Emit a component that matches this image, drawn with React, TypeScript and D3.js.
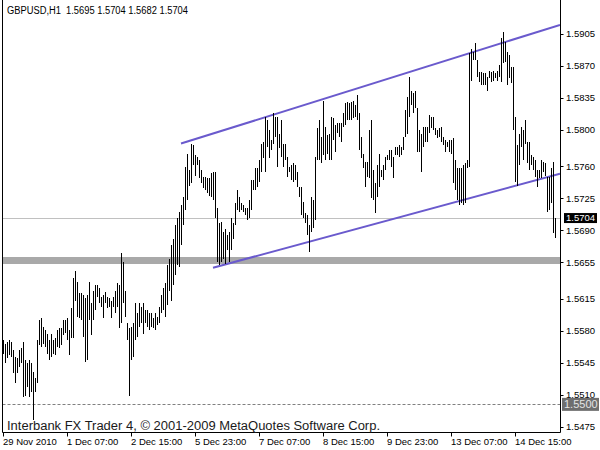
import React from "react";
import * as d3 from "d3";

// ---- data (GBPUSD H1, bar highs / lows) ----
const highs = [
1.5570,1.5566,1.5568,1.5570,1.5568,1.5559,1.5551,1.5550,1.5559,1.5561,
1.5568,1.5548,1.5545,1.5548,1.5545,1.5535,1.5528,1.5570,1.5592,1.5594,
1.5584,1.5581,1.5577,1.5570,1.5577,1.5570,1.5572,1.5581,1.5583,1.5583,
1.5592,1.5592,1.5594,1.5581,1.5605,1.5638,1.5646,1.5633,1.5621,1.5621,
1.5619,1.5616,1.5619,1.5633,1.5610,1.5624,1.5630,1.5630,1.5627,1.5617,
1.5619,1.5622,1.5617,1.5616,1.5613,1.5617,1.5624,1.5632,1.5630,1.5665,
1.5655,1.5624,1.5588,1.5583,1.5584,1.5588,1.5610,1.5599,1.5610,1.5606,
1.5610,1.5603,1.5603,1.5599,1.5599,1.5594,1.5599,1.5595,1.5606,1.5619,
1.5627,1.5632,1.5652,1.5659,1.5674,1.5681,1.5696,1.5703,1.5710,1.5718,
1.5726,1.5759,1.5774,1.5756,1.5785,1.5783,1.5772,1.5770,1.5767,1.5756,
1.5748,1.5748,1.5747,1.5747,1.5753,1.5754,1.5754,1.5715,1.5698,1.5699,
1.5688,1.5692,1.5685,1.5688,1.5704,1.5698,1.5720,1.5734,1.5726,1.5720,
1.5718,1.5715,1.5715,1.5723,1.5745,1.5745,1.5758,1.5758,1.5767,1.5785,
1.5787,1.5814,1.5811,1.5800,1.5789,1.5818,1.5814,1.5814,1.5796,1.5811,
1.5785,1.5785,1.5770,1.5759,1.5761,1.5764,1.5761,1.5754,1.5737,1.5737,
1.5721,1.5709,1.5707,1.5696,1.5726,1.5723,1.5770,1.5802,1.5811,1.5792,
1.5832,1.5803,1.5794,1.5796,1.5814,1.5813,1.5805,1.5807,1.5808,1.5807,
1.5819,1.5829,1.5830,1.5829,1.5830,1.5832,1.5827,1.5838,1.5819,1.5792,
1.5774,1.5765,1.5765,1.5800,1.5811,1.5756,1.5742,1.5761,1.5774,1.5756,
1.5761,1.5770,1.5772,1.5778,1.5778,1.5770,1.5781,1.5781,1.5783,1.5781,
1.5792,1.5822,1.5836,1.5858,1.5843,1.5840,1.5843,1.5824,1.5800,1.5796,
1.5803,1.5803,1.5803,1.5816,1.5814,1.5814,1.5802,1.5800,1.5802,1.5803,
1.5792,1.5789,1.5787,1.5789,1.5789,1.5791,1.5767,1.5758,1.5758,1.5758,
1.5761,1.5764,1.5767,1.5884,1.5889,1.5885,1.5895,1.5876,1.5863,1.5863,
1.5862,1.5862,1.5858,1.5865,1.5863,1.5865,1.5862,1.5865,1.5871,1.5901,
1.5907,1.5896,1.5885,1.5882,1.5869,1.5869,1.5814,1.5783,1.5796,1.5803,
1.5800,1.5811,1.5787,1.5787,1.5772,1.5770,1.5767,1.5756,1.5756,1.5767,
1.5765,1.5764,1.5748,1.5748,1.5758,1.5765,1.5704
];
const lows = [
1.5555,1.5545,1.5550,1.5553,1.5551,1.5534,1.5523,1.5534,1.5540,1.5545,
1.5507,1.5509,1.5518,1.5507,1.5513,1.5482,1.5513,1.5523,1.5564,1.5562,
1.5566,1.5562,1.5555,1.5548,1.5551,1.5555,1.5553,1.5562,1.5561,1.5564,
1.5575,1.5578,1.5570,1.5553,1.5572,1.5572,1.5613,1.5595,1.5594,1.5592,
1.5573,1.5546,1.5548,1.5592,1.5575,1.5592,1.5603,1.5617,1.5610,1.5606,
1.5594,1.5610,1.5605,1.5606,1.5594,1.5606,1.5600,1.5606,1.5583,1.5588,
1.5610,1.5595,1.5570,1.5509,1.5548,1.5551,1.5570,1.5573,1.5584,1.5588,
1.5577,1.5588,1.5584,1.5581,1.5584,1.5583,1.5581,1.5586,1.5588,1.5599,
1.5603,1.5595,1.5608,1.5624,1.5613,1.5630,1.5641,1.5652,1.5650,1.5674,
1.5696,1.5712,1.5723,1.5739,1.5742,1.5761,1.5750,1.5761,1.5747,1.5742,
1.5736,1.5734,1.5731,1.5728,1.5726,1.5723,1.5703,1.5655,1.5652,1.5655,
1.5659,1.5653,1.5668,1.5655,1.5668,1.5681,1.5696,1.5712,1.5710,1.5712,
1.5710,1.5707,1.5701,1.5703,1.5712,1.5734,1.5734,1.5737,1.5743,1.5754,
1.5769,1.5754,1.5781,1.5769,1.5778,1.5785,1.5792,1.5759,1.5780,1.5770,
1.5759,1.5767,1.5748,1.5754,1.5745,1.5743,1.5745,1.5737,1.5726,1.5707,
1.5704,1.5698,1.5685,1.5666,1.5688,1.5693,1.5701,1.5767,1.5767,1.5764,
1.5772,1.5767,1.5774,1.5767,1.5767,1.5789,1.5776,1.5797,1.5792,1.5787,
1.5803,1.5805,1.5811,1.5811,1.5811,1.5813,1.5814,1.5811,1.5778,1.5769,
1.5758,1.5737,1.5748,1.5747,1.5725,1.5723,1.5709,1.5726,1.5737,1.5748,
1.5745,1.5756,1.5767,1.5767,1.5759,1.5747,1.5772,1.5772,1.5770,1.5772,
1.5778,1.5792,1.5796,1.5814,1.5827,1.5818,1.5824,1.5776,1.5776,1.5754,
1.5781,1.5787,1.5787,1.5797,1.5802,1.5800,1.5794,1.5791,1.5792,1.5787,
1.5783,1.5776,1.5781,1.5776,1.5774,1.5742,1.5734,1.5723,1.5718,1.5720,
1.5718,1.5720,1.5758,1.5759,1.5854,1.5876,1.5876,1.5858,1.5852,1.5849,
1.5849,1.5849,1.5843,1.5857,1.5852,1.5854,1.5857,1.5854,1.5858,1.5852,
1.5873,1.5874,1.5849,1.5857,1.5851,1.5800,1.5743,1.5739,1.5761,1.5781,
1.5767,1.5785,1.5764,1.5756,1.5761,1.5756,1.5748,1.5737,1.5747,1.5747,
1.5754,1.5750,1.5710,1.5712,1.5720,1.5687,1.5682
];

const priceTicks = [1.5905, 1.587, 1.5835, 1.58, 1.576, 1.5725, 1.569, 1.5655, 1.5615, 1.558, 1.5545, 1.551, 1.5475];
const timeLabels = ["29 Nov 2010", "1 Dec 07:00", "2 Dec 15:00", "5 Dec 23:00", "7 Dec 07:00", "8 Dec 15:00", "9 Dec 23:00", "13 Dec 07:00", "14 Dec 15:00"];
const timeLabelBars = [0, 32, 64, 96, 128, 160, 192, 224, 256];

const titleText = "GBPUSD,H1  1.5695 1.5704 1.5682 1.5704";
const copyrightText = "Interbank FX Trader 4, \u00A9 2001-2009 MetaQuotes Software Corp.";

const bidPrice = 1.5704;
const levelPrice = 1.5657;
const alertPrice = 1.55;

// channel trend lines: [barIndex, price] anchors
const upperChannel = [[88.75, 1.5785], [278.25, 1.5915]];
const lowerChannel = [[104.75, 1.5649], [278.25, 1.5752]];

const W = 600, H = 450;
const L = 2.5, R = 560.5, B = 432.5;

export default function App() {
  const x = d3.scaleLinear().domain([0, 1]).range([3.5, 5.5]);
  const y = d3.scaleLinear().domain([1.54692, 1.59422]).range([432, 0]);
  const line = d3.line<number[]>().x((d) => x(d[0])).y((d) => y(d[1]));
  const font = "'Liberation Sans', Arial, sans-serif";

  return (
    <svg width={W} height={H} style={{ position: "absolute", left: 0, top: 0, background: "#fff" }}>
      <defs>
        <clipPath id="plot">
          <rect x={3} y={0} width={557} height={432} />
        </clipPath>
      </defs>
      <rect x={0} y={0} width={W} height={H} fill="#fff" />
      <g clipPath="url(#plot)">
        <line x1={L} x2={R} y1={y(levelPrice)} y2={y(levelPrice)} stroke="#a9a9a9" strokeWidth={7} />
        <line x1={L} x2={R} y1={Math.round(y(bidPrice)) + 0.5} y2={Math.round(y(bidPrice)) + 0.5} stroke="#c0c0c0" strokeWidth={1} />
        <line x1={L} x2={R} y1={Math.round(y(alertPrice)) + 0.5} y2={Math.round(y(alertPrice)) + 0.5} stroke="#808080" strokeWidth={1} strokeDasharray="3,2" />
        <path d={line(upperChannel) || ""} stroke="#6a5acd" strokeWidth={2} fill="none" />
        <path d={line(lowerChannel) || ""} stroke="#6a5acd" strokeWidth={2} fill="none" />
        {highs.map((h, i) => (
          <line key={i} x1={x(i)} x2={x(i)} y1={y(h)} y2={y(lows[i])} stroke="#000" strokeWidth={1} shapeRendering="crispEdges" />
        ))}
      </g>
      {/* frame */}
      <line x1={L} x2={L} y1={0} y2={B} stroke="#000" />
      <line x1={R} x2={R} y1={0} y2={B} stroke="#000" />
      <line x1={L} x2={R} y1={B} y2={B} stroke="#000" />
      {/* price axis */}
      {priceTicks.map((p) => (
        <g key={p}>
          <line x1={R} x2={R + 3} y1={Math.round(y(p)) + 0.5} y2={Math.round(y(p)) + 0.5} stroke="#000" />
          <text x={566} y={y(p) + 3.5} fontFamily={font} fontSize={9.5} fill="#000">{p.toFixed(4)}</text>
        </g>
      ))}
      <rect x={564} y={y(bidPrice) - 4.5} width={33} height={10} fill="#000" />
      <text x={566} y={y(bidPrice) + 3.8} fontFamily={font} fontSize={9.5} fill="#fff">{bidPrice.toFixed(4)}</text>
      <rect x={562} y={y(alertPrice) - 6} width={37} height={13} fill="#6e6e6e" />
      <text x={564} y={y(alertPrice) + 4.5} fontFamily={font} fontSize={11} fill="#e4e4e4">{alertPrice.toFixed(4)}</text>
      {/* time axis */}
      {timeLabels.map((t, k) => (
        <g key={t}>
          <line x1={Math.floor(x(timeLabelBars[k])) + 0.5} x2={Math.floor(x(timeLabelBars[k])) + 0.5} y1={B} y2={B + 4} stroke="#000" />
          <text x={x(timeLabelBars[k]) - 0.5} y={445} fontFamily={font} fontSize={9.5} fill="#000">{t}</text>
        </g>
      ))}
      <text x={7} y={14} fontFamily={font} fontSize={10} fill="#000" style={{ whiteSpace: "pre" }} textLength={181} lengthAdjust="spacingAndGlyphs">{titleText}</text>
      <text x={7} y={430} fontFamily={font} fontSize={12.5} fill="#1a1a1a" textLength={373} lengthAdjust="spacingAndGlyphs">{copyrightText}</text>
    </svg>
  );
}
